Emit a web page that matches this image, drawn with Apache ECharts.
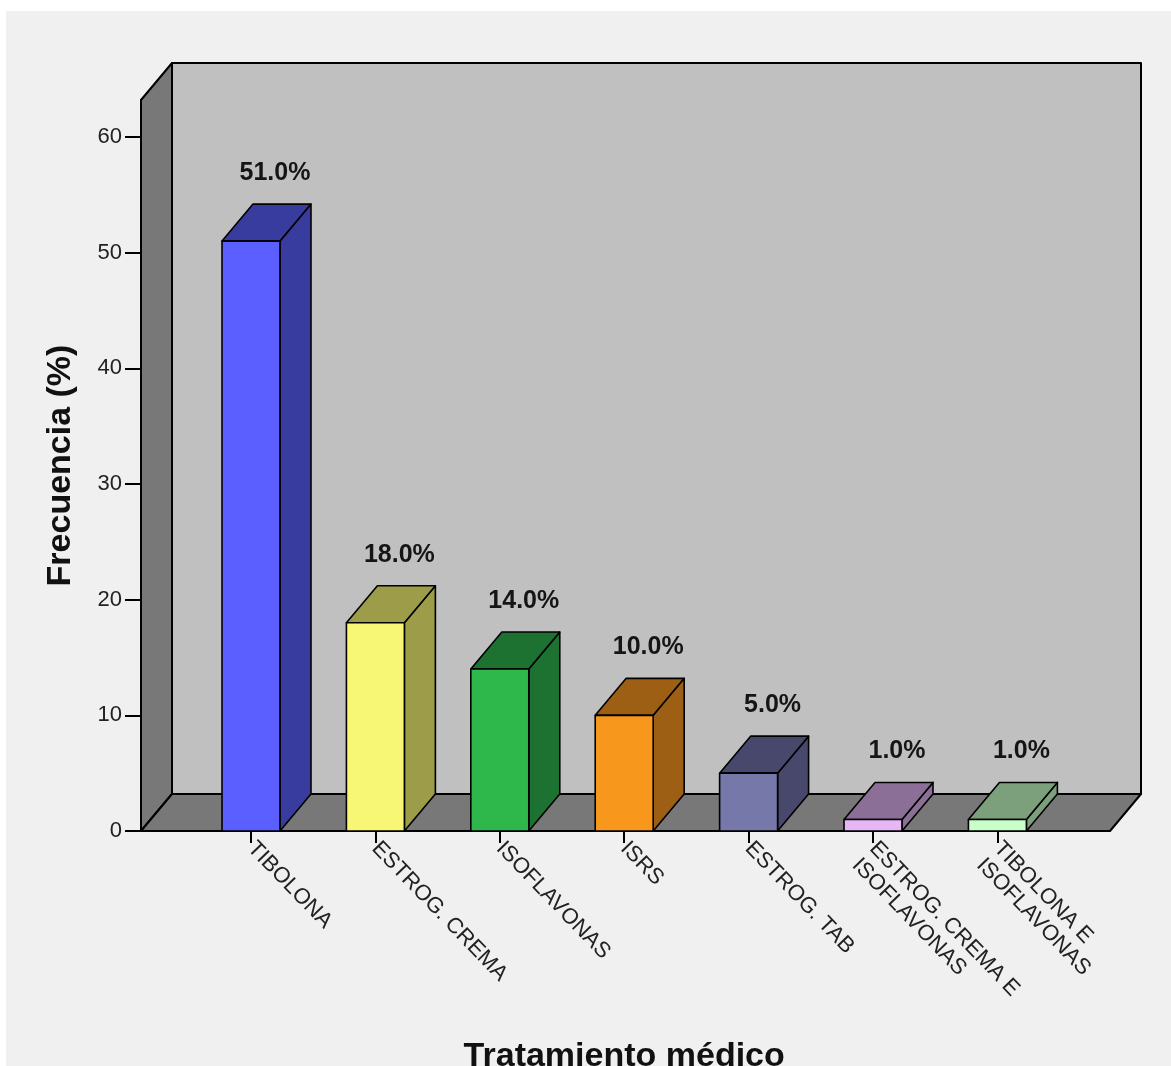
<!DOCTYPE html>
<html>
<head>
<meta charset="utf-8">
<title>Tratamiento médico</title>
<script src="https://cdn.jsdelivr.net/npm/echarts@6/dist/echarts.min.js"></script>
<style>
  html, body { margin: 0; padding: 0; background: #ffffff; }
  #panel { position: absolute; left: 6px; top: 11px; width: 1165px; height: 1055px; background: #f0f0f0; }
  #chart { position: absolute; left: 0; top: 0; width: 1171px; height: 1066px; }
</style>
</head>
<body>
<div id="panel"></div>
<div id="chart"></div>
<script>
// Treatment categories and their frequency (%)
const categories = [
  'TIBOLONA',
  'ESTROG. CREMA',
  'ISOFLAVONAS',
  'ISRS',
  'ESTROG. TAB',
  'ESTROG. CREMA E\nISOFLAVONAS',
  'TIBOLONA E\nISOFLAVONAS'
];
const frecuencia = [51.0, 18.0, 14.0, 10.0, 5.0, 1.0, 1.0];
const yTicks = [0, 10, 20, 30, 40, 50, 60];

// Face colours of each bar: front face and shaded top/side faces
const frontColors = ['#5b5fff', '#f8f675', '#2eb84b', '#f7981d', '#7778aa', '#e6b6f7', '#c8ffc8'];
const shadeColors = ['#383c9e', '#9d9c48', '#1e7231', '#9c5f14', '#47486c', '#8c6f96', '#7c9f7c'];

// 3D geometry (pixels)
const DEPTH_X = 31;
const DEPTH_Y = -37;
const BAR_RATIO = 0.466;
const WALL_LEFT_EXT = 47.8;
const WALL_RIGHT_EXT = 50.4;
const Y_MAX = 63.2;
const FONT = '"Liberation Sans", Arial, sans-serif';

function renderFrame(params, api) {
  const cs = params.coordSys;
  const y0 = api.coord([0, 0])[1];
  const yT = api.coord([0, Y_MAX])[1];
  const fl = cs.x - WALL_LEFT_EXT;
  const fr = cs.x + cs.width + WALL_RIGHT_EXT;
  const dx = DEPTH_X, dy = DEPTH_Y;
  const line = { stroke: '#000', lineWidth: 2, lineJoin: 'round' };
  return {
    type: 'group',
    children: [
      { type: 'rect', shape: { x: fl + dx, y: yT + dy, width: fr - fl, height: y0 - yT },
        style: Object.assign({ fill: '#c0c0c0' }, line) },
      { type: 'polygon', shape: { points: [[fl, y0], [fl, yT], [fl + dx, yT + dy], [fl + dx, y0 + dy]] },
        style: Object.assign({ fill: '#787878' }, line) },
      { type: 'polygon', shape: { points: [[fl, y0], [fr, y0], [fr + dx, y0 + dy], [fl + dx, y0 + dy]] },
        style: Object.assign({ fill: '#787878' }, line) }
    ]
  };
}

function renderBar(params, api) {
  const i = api.value(0);
  const v = api.value(1);
  const top = api.coord([i, v]);
  const base = api.coord([i, 0]);
  const w = api.size([1, 0])[0] * BAR_RATIO;
  const x0 = top[0] - w / 2, x1 = top[0] + w / 2;
  const yT = top[1], yB = base[1];
  const dx = DEPTH_X, dy = DEPTH_Y;
  const edge = { stroke: '#000', lineWidth: 1.6, lineJoin: 'round' };
  const shade = shadeColors[i];
  return {
    type: 'group',
    children: [
      { type: 'polygon', shape: { points: [[x1, yB], [x1, yT], [x1 + dx, yT + dy], [x1 + dx, yB + dy]] },
        style: Object.assign({ fill: shade }, edge) },
      { type: 'polygon', shape: { points: [[x0, yT], [x1, yT], [x1 + dx, yT + dy], [x0 + dx, yT + dy]] },
        style: Object.assign({ fill: shade }, edge) },
      { type: 'rect', shape: { x: x0, y: yT, width: w, height: yB - yT },
        style: Object.assign({ fill: frontColors[i] }, edge) },
      { type: 'text',
        style: { text: v.toFixed(1) + '%', x: top[0] + 24, y: yT + dy - 31,
                 align: 'center', verticalAlign: 'middle',
                 font: 'bold 25px ' + FONT, fill: '#151515' } }
    ]
  };
}

const chart = echarts.init(document.getElementById('chart'), null, { renderer: 'canvas' });

chart.setOption({
  backgroundColor: 'transparent',
  animation: false,
  grid: { left: 188.8, right: 111.4, top: 100, bottom: 235, outerBoundsMode: 'none', containLabel: false },
  xAxis: {
    type: 'category',
    data: categories,
    boundaryGap: true,
    name: 'Tratamiento médico',
    nameLocation: 'middle',
    nameGap: 209,
    nameTextStyle: { fontFamily: FONT, fontWeight: 'bold', fontSize: 34, color: '#111' },
    axisLine: { show: false },
    axisTick: { show: true, alignWithLabel: true, length: 12, lineStyle: { color: '#000', width: 2 } },
    axisLabel: {
      interval: 0, rotate: -46, margin: 14,
      fontFamily: FONT, fontSize: 22, color: '#222', lineHeight: 24,
      verticalAlign: 'top', padding: [-12, 0, 0, 0]
    },
    splitLine: { show: false }
  },
  yAxis: {
    type: 'value',
    min: 0,
    max: Y_MAX,
    offset: 47.8,
    name: 'Frecuencia (%)',
    nameLocation: 'middle',
    nameGap: 63,
    nameRotate: 90,
    nameTextStyle: { fontFamily: FONT, fontWeight: 'bold', fontSize: 34, color: '#111' },
    axisLine: { show: true, lineStyle: { color: '#000', width: 2 } },
    axisTick: { show: true, length: 16, customValues: yTicks, lineStyle: { color: '#000', width: 2 } },
    axisLabel: { customValues: yTicks, margin: 19, fontFamily: FONT, fontSize: 22, color: '#222' },
    splitLine: { show: false }
  },
  series: [
    {
      type: 'custom',
      name: 'frame',
      z: 1,
      silent: true,
      renderItem: renderFrame,
      data: [[0, 0]]
    },
    {
      type: 'custom',
      name: 'Frecuencia',
      z: 2,
      renderItem: renderBar,
      encode: { x: 0, y: 1 },
      data: frecuencia.map((v, i) => [i, v])
    }
  ]
});
</script>
</body>
</html>
